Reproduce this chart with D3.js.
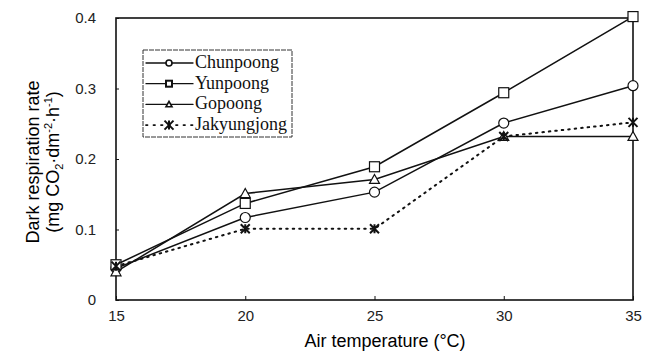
<!DOCTYPE html>
<html>
<head>
<meta charset="utf-8">
<script src="https://cdn.jsdelivr.net/npm/d3@7"></script>
<style>
  body { margin: 0; background: #fff; }
</style>
</head>
<body>
<script>
// data
var temps = [15, 20, 25, 30, 35];
var chunpoong   = [0.045, 0.117, 0.153, 0.251, 0.304];
var yunpoong    = [0.050, 0.137, 0.189, 0.294, 0.402];
var gopoong     = [0.040, 0.151, 0.171, 0.232, 0.232];
var jakyungjong = [0.048, 0.101, 0.101, 0.232, 0.252];
var names = ["Chunpoong", "Yunpoong", "Gopoong", "Jakyungjong"];
var yTicks = [0, 0.1, 0.2, 0.3, 0.4];

var series = [
  {name: names[0], vals: chunpoong, sym: "circle", dash: null},
  {name: names[1], vals: yunpoong, sym: "square", dash: null},
  {name: names[2], vals: gopoong, sym: "triangle", dash: null},
  {name: names[3], vals: jakyungjong, sym: "cross", dash: "1.5,5"}
];

var width = 659, height = 354;
var pLeft = 116, pRight = 633, pTop = 18, pBottom = 300;

var svg = d3.select("body").append("svg")
    .attr("width", width)
    .attr("height", height);

var x = d3.scaleLinear().domain([15, 35]).range([pLeft, pRight]);
var y = d3.scaleLinear().domain([0, 0.4]).range([pBottom, pTop]);

// frame
svg.append("rect")
    .attr("x", pLeft).attr("y", pTop)
    .attr("width", pRight - pLeft).attr("height", pBottom - pTop)
    .style("fill", "none").style("stroke", "#111").style("stroke-width", 1.6);

// axes
var xAxis = svg.append("g")
    .attr("transform", "translate(0," + pBottom + ")")
    .call(d3.axisBottom(x).tickValues(temps).tickSize(-4).tickPadding(10).tickFormat(d3.format("d")));
var yAxis = svg.append("g")
    .attr("transform", "translate(" + pLeft + ",0)")
    .call(d3.axisLeft(y).tickValues(yTicks).tickSize(-3).tickPadding(20)
      .tickFormat(function(d) { return d === 0 ? "0" : d3.format(".1f")(d); }));

[xAxis, yAxis].forEach(function(a) {
  a.select(".domain").remove();
  a.selectAll("line").style("stroke", "#111");
  a.selectAll("text")
    .style("font-family", "Arial, 'Liberation Sans', sans-serif")
    .style("font-size", "15px")
    .style("fill", "#222");
});

// axis titles
svg.append("text")
    .attr("x", 385).attr("y", 347)
    .attr("text-anchor", "middle")
    .style("font-family", "Arial, 'Liberation Sans', sans-serif")
    .style("font-size", "18px")
    .text("Air temperature (\u00B0C)");

var yt = svg.append("text")
    .attr("transform", "translate(39,162) rotate(-90)")
    .attr("text-anchor", "middle")
    .style("font-family", "Arial, 'Liberation Sans', sans-serif")
    .style("font-size", "18px");
yt.append("tspan").attr("x", 0).attr("dy", 0).text("Dark respiration rate");
var t2 = yt.append("tspan").attr("x", 0).attr("dy", 20);
t2.append("tspan").text("(mg  CO");
t2.append("tspan").attr("font-size", "11px").attr("dy", 4).text("2");
t2.append("tspan").attr("dy", -4).text("\u00B7dm");
t2.append("tspan").attr("font-size", "11px").attr("dy", -7).text("-2");
t2.append("tspan").attr("dy", 7).text("\u00B7h");
t2.append("tspan").attr("font-size", "11px").attr("dy", -7).text("-1");
t2.append("tspan").attr("dy", 7).text(")");

// lines
var line = d3.line()
    .x(function(d, i) { return x(temps[i]); })
    .y(function(d) { return y(d); });

svg.selectAll(".series")
    .data(series)
    .enter().append("path")
    .attr("d", function(s) { return line(s.vals); })
    .style("fill", "none")
    .style("stroke", "#111")
    .style("stroke-width", function(s) { return s.dash ? 2 : 1.5; })
    .style("stroke-dasharray", function(s) { return s.dash; })
    .style("stroke-linecap", "round");

function drawSym(g, sym, cx, cy, small) {
  var k = small ? 0.6 : 1;
  if (sym === "circle") {
    g.append("circle").attr("cx", cx).attr("cy", cy).attr("r", 5 * k)
      .style("fill", "#fff").style("stroke", "#111").style("stroke-width", small ? 1.6 : 1.2);
  } else if (sym === "square") {
    g.append("rect").attr("x", cx - 5 * k).attr("y", cy - 5 * k)
      .attr("width", 10 * k).attr("height", 10 * k)
      .style("fill", "#fff").style("stroke", "#111").style("stroke-width", small ? 2 : 1.2);
  } else if (sym === "triangle") {
    var s = 5 * k;
    g.append("path").attr("d", "M" + cx + "," + (cy - s) + "L" + (cx + s) + "," + (cy + s * 0.8) +
        "L" + (cx - s) + "," + (cy + s * 0.8) + "Z")
      .style("fill", "#fff").style("stroke", "#111").style("stroke-width", small ? 1.6 : 1.2);
  } else {
    var c = 4.5;
    g.append("path").attr("d", "M" + (cx - c) + "," + (cy - c) + "L" + (cx + c) + "," + (cy + c) +
        "M" + (cx + c) + "," + (cy - c) + "L" + (cx - c) + "," + (cy + c) +
        "M" + cx + "," + (cy - c) + "L" + cx + "," + (cy + c))
      .style("fill", "none").style("stroke", "#111").style("stroke-width", 2);
  }
}

var marks = svg.append("g");
series.forEach(function(s) {
  s.vals.forEach(function(v, i) {
    drawSym(marks, s.sym, x(temps[i]), y(v), false);
  });
});

// legend
var lg = svg.append("g");
lg.append("rect")
    .attr("x", 143).attr("y", 50).attr("width", 149).attr("height", 87)
    .style("fill", "#fff").style("stroke", "#333").style("stroke-width", 1)
    .style("stroke-dasharray", "5,1");
series.forEach(function(s, i) {
  var ly = 63 + i * 20.7;
  lg.append("line")
    .attr("x1", 146).attr("x2", 193).attr("y1", ly).attr("y2", ly)
    .style("stroke", "#111").style("stroke-width", s.dash ? 1.8 : 1.3)
    .style("stroke-dasharray", s.dash ? "1.5,6" : null)
    .style("stroke-linecap", "round");
  drawSym(lg, s.sym, 169, ly, true);
  lg.append("text")
    .attr("x", 195).attr("y", ly + 5)
    .style("font-family", "'Liberation Serif', 'Times New Roman', serif")
    .style("font-size", "18px")
    .style("fill", "#111")
    .text(s.name);
});
</script>
</body>
</html>
